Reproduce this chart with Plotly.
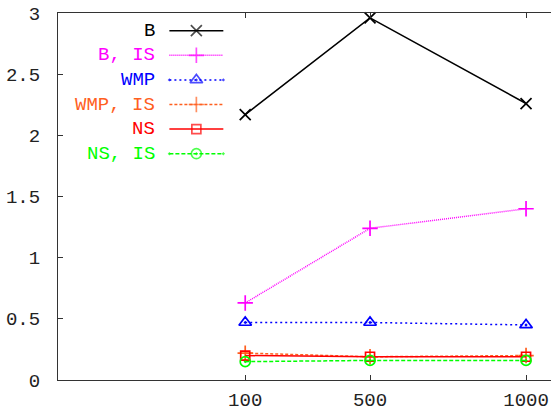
import plotly.graph_objects as go

x_vals = [100, 500, 1000]
b = [2.17, 2.96, 2.26]
b_is = [0.63, 1.24, 1.40]
wmp = [0.47, 0.47, 0.45]
wmp_is = [0.22, 0.19, 0.20]
ns = [0.20, 0.19, 0.19]
ns_is = [0.15, 0.16, 0.16]

y_ticks = [0, 0.5, 1, 1.5, 2, 2.5, 3]
y_tick_labels = ["0", "0.5", "1", "1.5", "2", "2.5", "3"]
x_tick_labels = ["100", "500", "1000"]

series = [
    ("B", b, "#000000", "solid", "x-thin-open", 11, 1.5),
    ("B, IS", b_is, "#ff00ff", "1px,1px", "cross-thin-open", 11, 1.5),
    ("WMP", wmp, "#0000ff", "2px,3px", "triangle-up-open-dot", 11, 1.5),
    ("WMP, IS", wmp_is, "#ff5f1f", "3px,2px", "cross-thin-open", 11, 1.5),
    ("NS", ns, "#ff0000", "solid", "square-open", 9, 1.5),
    ("NS, IS", ns_is, "#00ff00", "4px,2px", "circle-open-dot", 10, 1.5),
]

FONT = "Liberation Mono"
W, H = 551, 412
L, R, T, B_ = 57.5, 0, 13, 32

fig = go.Figure()
for name, ys, col, dash, sym, size, lw in series:
    fig.add_trace(go.Scatter(
        x=x_vals, y=ys, mode="lines+markers", name=name,
        line=dict(color=col, width=lw, dash=dash),
        marker=dict(symbol=sym, size=size, color=col,
                    line=dict(color=col, width=1.7)),
        showlegend=False, cliponaxis=False,
    ))

# manual gnuplot-style legend (text right-aligned, sample on the right)
row_y0, row_step = 30.7, 24.6
for i, (name, ys, col, dash, sym, size, lw) in enumerate(series):
    yy = row_y0 + i * row_step
    fig.add_trace(go.Scatter(
        x=[169, 196, 223], y=[yy, yy, yy], mode="lines+markers",
        xaxis="x2", yaxis="y2",
        line=dict(color=col, width=lw, dash=dash),
        marker=dict(symbol=sym, size=[0, size, 0], color=col,
                    line=dict(color=col, width=1.7)),
        showlegend=False, hoverinfo="skip",
    ))
    fig.add_annotation(
        x=157, y=yy, xref="x2", yref="y2", text=name, showarrow=False,
        xanchor="right", yanchor="middle",
        font=dict(family=FONT, size=19, color=col),
    )

fig.update_layout(
    width=W, height=H,
    margin=dict(l=L, r=R, t=T, b=B_, autoexpand=False),
    paper_bgcolor="white", plot_bgcolor="white",
    font=dict(family=FONT, size=19, color="#222222"),
    xaxis=dict(
        range=[-500, 1080], tickvals=x_vals, ticktext=x_tick_labels,
        ticks="inside", ticklen=5, tickcolor="#333333",
        showline=True, linecolor="#333333", linewidth=1, mirror="ticks",
        showgrid=False, zeroline=False, ticklabelstandoff=2, automargin=False,
    ),
    yaxis=dict(
        range=[0, 3], tickvals=y_ticks, ticktext=y_tick_labels,
        ticks="inside", ticklen=5, tickcolor="#333333",
        showline=True, linecolor="#333333", linewidth=1,
        showgrid=False, zeroline=False, ticklabelstandoff=13, automargin=False,
    ),
    xaxis2=dict(range=[L, W - R], overlaying="x", visible=False),
    yaxis2=dict(range=[H - B_, T], overlaying="y", visible=False),
)

fig.write_html(
    "out.html",
    config={"displayModeBar": False},
    post_script="document.body.style.margin='0';document.body.style.overflow='hidden';",
)
